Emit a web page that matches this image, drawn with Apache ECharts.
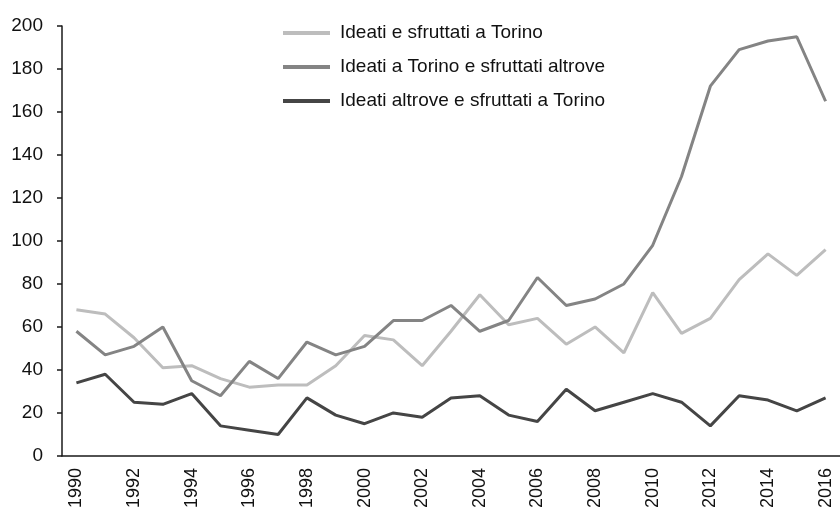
<!DOCTYPE html>
<html>
<head>
<meta charset="utf-8">
<script src="https://cdn.jsdelivr.net/npm/echarts@6/dist/echarts.min.js"></script>
<style>
  html, body { margin: 0; padding: 0; background: #fff; }
  #chart { width: 840px; height: 511px; }
</style>
</head>
<body>
<div id="chart"></div>
<script>
// Years on the horizontal axis
const years = [];
for (let y = 1990; y <= 2016; y++) years.push(String(y));

// Ideati e sfruttati a Torino
const torinoTorino = [68, 66, 55, 41, 42, 36, 32, 33, 33, 42, 56, 54, 42, 58, 75, 61, 64, 52, 60, 48, 76, 57, 64, 82, 94, 84, 96];
// Ideati a Torino e sfruttati altrove
const torinoAltrove = [58, 47, 51, 60, 35, 28, 44, 36, 53, 47, 51, 63, 63, 70, 58, 63, 83, 70, 73, 80, 98, 130, 172, 189, 193, 195, 165];
// Ideati altrove e sfruttati a Torino
const altroveTorino = [34, 38, 25, 24, 29, 14, 12, 10, 27, 19, 15, 20, 18, 27, 28, 19, 16, 31, 21, 25, 29, 25, 14, 28, 26, 21, 27];

const seriesNames = [
  'Ideati e sfruttati a Torino',
  'Ideati a Torino e sfruttati altrove',
  'Ideati altrove e sfruttati a Torino'
];
const colors = ['#bdbdbd', '#848484', '#454545'];

const font = '"Liberation Sans", Arial, sans-serif';
const axisColor = '#1a1a1a';

const chart = echarts.init(document.getElementById('chart'), null, { renderer: 'canvas' });

const makeLine = (name, data, color) => ({
  name: name,
  type: 'line',
  data: data,
  symbol: 'none',
  smooth: false,
  lineStyle: { color: color, width: 3 },
  itemStyle: { color: color }
});

chart.setOption({
  animation: false,
  backgroundColor: '#ffffff',
  color: colors,
  grid: { left: 62, top: 26, right: -8, bottom: 55, containLabel: false },
  legend: {
    orient: 'vertical',
    left: 283,
    top: 23,
    padding: 0,
    itemGap: 14,
    itemWidth: 47,
    itemHeight: 4,
    icon: 'rect',
    textStyle: { fontFamily: font, fontSize: 19, color: '#111', lineHeight: 20, padding: [0, 0, 0, 5] },
    data: seriesNames
  },
  xAxis: {
    type: 'category',
    data: years,
    boundaryGap: true,
    axisLine: { lineStyle: { color: axisColor, width: 1.5 } },
    axisTick: { interval: 0, length: 6, lineStyle: { color: axisColor, width: 1.5 } },
    axisLabel: {
      interval: 1,
      rotate: 90,
      margin: 12,
      fontFamily: font,
      fontSize: 18,
      color: '#111'
    },
    splitLine: { show: false }
  },
  yAxis: {
    type: 'value',
    min: 0,
    max: 200,
    interval: 20,
    axisLine: { show: true, lineStyle: { color: axisColor, width: 1.5 } },
    axisTick: { show: true, length: 5, lineStyle: { color: axisColor, width: 1.5 } },
    axisLabel: { margin: 19, fontFamily: font, fontSize: 19, color: '#111' },
    splitLine: { show: false }
  },
  series: [
    makeLine(seriesNames[0], torinoTorino, colors[0]),
    makeLine(seriesNames[1], torinoAltrove, colors[1]),
    makeLine(seriesNames[2], altroveTorino, colors[2])
  ]
});
</script>
</body>
</html>
